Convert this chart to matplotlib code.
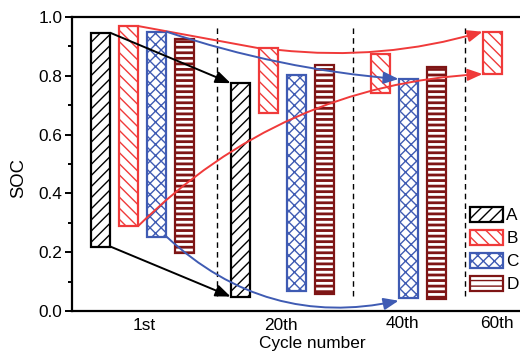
import matplotlib
matplotlib.use("Agg")
import matplotlib.pyplot as plt
import matplotlib.transforms as mtransforms
from matplotlib.patches import Patch

plt.rcParams['font.family'] = ['Liberation Sans', 'DejaVu Sans']

# ---- data ----
cycles = ['1st', '20th', '40th', '60th']
series = ['A', 'B', 'C', 'D']
# SOC upper / lower bounds per cycle (None = not shown)
A_top = [0.946, 0.775, None, None]
A_bot = [0.219, 0.049, None, None]
B_top = [0.969, 0.894, 0.874, 0.950]
B_bot = [0.290, 0.673, 0.741, 0.806]
C_top = [0.950, 0.803, 0.789, None]
C_bot = [0.253, 0.068, 0.045, None]
D_top = [0.925, 0.837, 0.830, None]
D_bot = [0.197, 0.058, 0.041, None]

# ---- styles ----
colors = {'A': '#000000', 'B': '#F03A3A', 'C': '#3F5BB3', 'D': '#7E1515'}
hatches = {'A': '///', 'B': '\\\\\\', 'C': 'xxx', 'D': '---'}
tops = {'A': A_top, 'B': B_top, 'C': C_top, 'D': D_top}
bots = {'A': A_bot, 'B': B_bot, 'C': C_bot, 'D': D_bot}
group_base = [0, 5, 9, 13]
width = 0.71

fig = plt.figure(figsize=(5.2, 3.54), dpi=100)
ax = fig.add_axes([72/520, 1-311/354, (552-72)/520, (311-17)/354])

def slot(si, gi):
    return group_base[gi] + si

for si, s in enumerate(series):
    for gi in range(len(cycles)):
        t, b = tops[s][gi], bots[s][gi]
        if t is None:
            continue
        bars = ax.bar(slot(si, gi), t - b, bottom=b, width=width,
                      facecolor='white', edgecolor=colors[s],
                      hatch=hatches[s], linewidth=1.6, zorder=3)
        if s == 'D':
            for p in bars:
                try:
                    p.set_hatch_linewidth(2.0)
                except Exception:
                    pass

# dashed separators
for xs in [4.16, 9.02, 13.02]:
    ax.axvline(xs, ymin=0.05, ymax=0.97, color='black', lw=1.0,
               ls=(0, (4, 3)), zorder=2)

def arrow(p0, p1, color, rad=0.0, head=True):
    style = '-'
    if head:
        style = matplotlib.patches.ArrowStyle('-|>', head_length=0.6, head_width=0.24)
    ax.annotate('', xy=p1, xytext=p0,
                arrowprops=dict(arrowstyle=style, color=color, lw=1.4,
                                mutation_scale=15, shrinkA=0, shrinkB=0,
                                connectionstyle=f'arc3,rad={rad}'),
                zorder=4)

hw = width / 2
# A arrows
arrow((slot(0, 0)+hw, A_top[0]), (slot(0, 1)-hw, A_top[1]), colors['A'])
arrow((slot(0, 0)+hw, A_bot[0]), (slot(0, 1)-hw, A_bot[1]), colors['A'])
# B lines
arrow((slot(1, 0)+hw, B_top[0]), (slot(1, 1)-hw, B_top[1]), colors['B'], head=False)
arrow((slot(1, 1)+hw, B_top[1]-0.006), (slot(1, 3)-hw, B_top[3]), colors['B'], rad=0.1)
arrow((slot(1, 0)+hw, B_bot[0]), (slot(1, 3)-hw, B_bot[3]), colors['B'], rad=-0.19)
# C arrows
arrow((slot(2, 0)+hw, C_top[0]), (slot(2, 2)-hw, C_top[2]), colors['C'], rad=0.06)
arrow((slot(2, 0)+hw, C_bot[0]), (slot(2, 2)-hw, C_bot[2]-0.01), colors['C'], rad=0.26)

ax.set_xlim(-1.02, 16.125)
ax.set_ylim(0, 1.0)
ax.set_yticks([0.0, 0.2, 0.4, 0.6, 0.8, 1.0])
ax.set_yticks([0.1, 0.3, 0.5, 0.7, 0.9], minor=True)
ax.set_yticklabels(['0.0', '0.2', '0.4', '0.6', '0.8', '1.0'])
ax.tick_params(axis='y', which='major', direction='out', length=5, width=1.4,
               labelsize=12.4, pad=2)
ax.tick_params(axis='y', which='minor', direction='out', length=3, width=1.4)

tick_pos = [1.55, 6.45, 10.8, 14.16]
ax.set_xticks(tick_pos)
ax.set_xticklabels(cycles)
ax.tick_params(axis='x', length=0, labelsize=12.4, pad=5)
for lbl in ax.get_xticklabels()[2:]:
    lbl.set_transform(lbl.get_transform() +
                      mtransforms.ScaledTranslation(0, 2/100, fig.dpi_scale_trans))

for sp in ax.spines.values():
    sp.set_linewidth(1.6)

ax.set_xlabel('Cycle number', fontsize=12.4, labelpad=2)
ax.set_ylabel('SOC', fontsize=13.3)
ax.yaxis.set_label_coords(-0.094, 0.452)

handles = [Patch(facecolor='white', edgecolor=colors[s], hatch=hatches[s],
                 linewidth=1.6, label=s) for s in series]
try:
    handles[3].set_hatch_linewidth(2.0)
except Exception:
    pass
fig.legend(handles=handles, loc='upper left',
           bbox_to_anchor=(470/520, 1-207/354), frameon=False, fontsize=12.4,
           handlelength=1.9, handleheight=0.95, labelspacing=0.38,
           handletextpad=0.2, borderpad=0, borderaxespad=0)

fig.savefig('out.png', dpi=100)
